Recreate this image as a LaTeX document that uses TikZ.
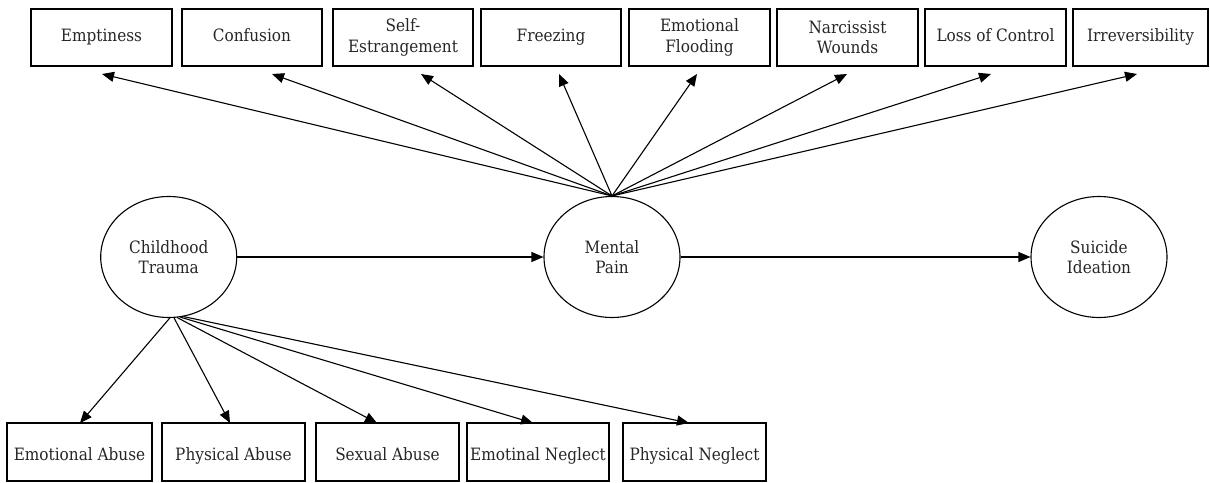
\documentclass[tikz,border=0pt]{standalone}
\usepackage{fontspec}
\setmainfont{DejaVu Serif}[FakeStretch=0.9]
\usetikzlibrary{shapes.geometric,arrows.meta}
\begin{document}
\begin{tikzpicture}[x=1pt,y=-1pt,
  lbl/.style={font=\fontsize{17}{20.5}\selectfont, text=black!85, align=center},
  topbox/.style={lbl, draw, line width=1.1pt, minimum height=57pt, inner sep=0pt},
  one/.style={text height=12.5pt, text depth=4pt},
  botbox/.style={lbl, draw, line width=1.1pt, minimum height=58pt, inner sep=0pt, text height=20pt, text depth=4pt},
  latent/.style={lbl, draw, ellipse, line width=1.1pt, minimum width=136pt, minimum height=121pt, inner sep=0pt},
  arr/.style={line width=1.1pt, -{Triangle[length=12pt,width=10pt]}}]
\useasboundingbox (0,0) rectangle (1210,482);

% top boxes
\node[topbox, one, minimum width=141pt] (b1) at (101.5,37.5) {Emptiness};
\node[topbox, one, minimum width=140pt] (b2) at (252,37.5) {Confusion};
\node[topbox, minimum width=140pt] (b3) at (403,37.5) {Self-\\Estrangement};
\node[topbox, one, minimum width=140pt] (b4) at (551,37.5) {Freezing};
\node[topbox, minimum width=141pt] (b5) at (699.5,37.5) {Emotional\\Flooding};
\node[topbox, minimum width=141pt] (b6) at (847.5,37.5) {Narcissist\\Wounds};
\node[topbox, one, minimum width=141pt] (b7) at (995.5,37.5) {Loss of Control};
\node[topbox, one, minimum width=135pt] (b8) at (1140.5,37.5) {Irreversibility};

% latent variables
\node[latent] (ct) at (168.7,257) {Childhood\\Trauma};
\node[latent] (mp) at (612,257) {Mental\\Pain};
\node[latent] (si) at (1099,257) {Suicide\\Ideation};

% bottom boxes
\node[botbox, minimum width=145pt] (e1) at (79.5,452) {Emotional Abuse};
\node[botbox, minimum width=143pt] (e2) at (233.5,452) {Physical Abuse};
\node[botbox, minimum width=143pt] (e3) at (387.5,452) {Sexual Abuse};
\node[botbox, minimum width=142pt] (e4) at (538,452) {Emotinal Neglect};
\node[botbox, minimum width=143pt] (e5) at (694.5,452) {Physical Neglect};

% arrow tip coordinates (top)
\coordinate (t1) at (102,74);
\coordinate (t2) at (272,74);
\coordinate (t3) at (421,74);
\coordinate (t4) at (559,74);
\coordinate (t5) at (697,74);
\coordinate (t6) at (847,74);
\coordinate (t7) at (991,74);
\coordinate (t8) at (1137,74);
% arrow tip coordinates (bottom)
\coordinate (u1) at (80,423);
\coordinate (u2) at (230,423);
\coordinate (u3) at (377,423);
\coordinate (u4) at (533,423);
\coordinate (u5) at (689,423);

% arrows
\foreach \t in {t1,t2,t3,t4,t5,t6,t7,t8}
  \draw[arr] (mp.north) -- (\t);
\draw[arr] (ct.-89) -- (u1);
\draw[arr] (ct.-85) -- (u2);
\draw[arr] (ct.-82) -- (u3);
\draw[arr] (ct.-79) -- (u4);
\draw[arr] (ct.-76) -- (u5);
\draw[arr] (ct.east) -- (mp.west);
\draw[arr] (mp.east) -- (si.west);
\end{tikzpicture}
\end{document}
